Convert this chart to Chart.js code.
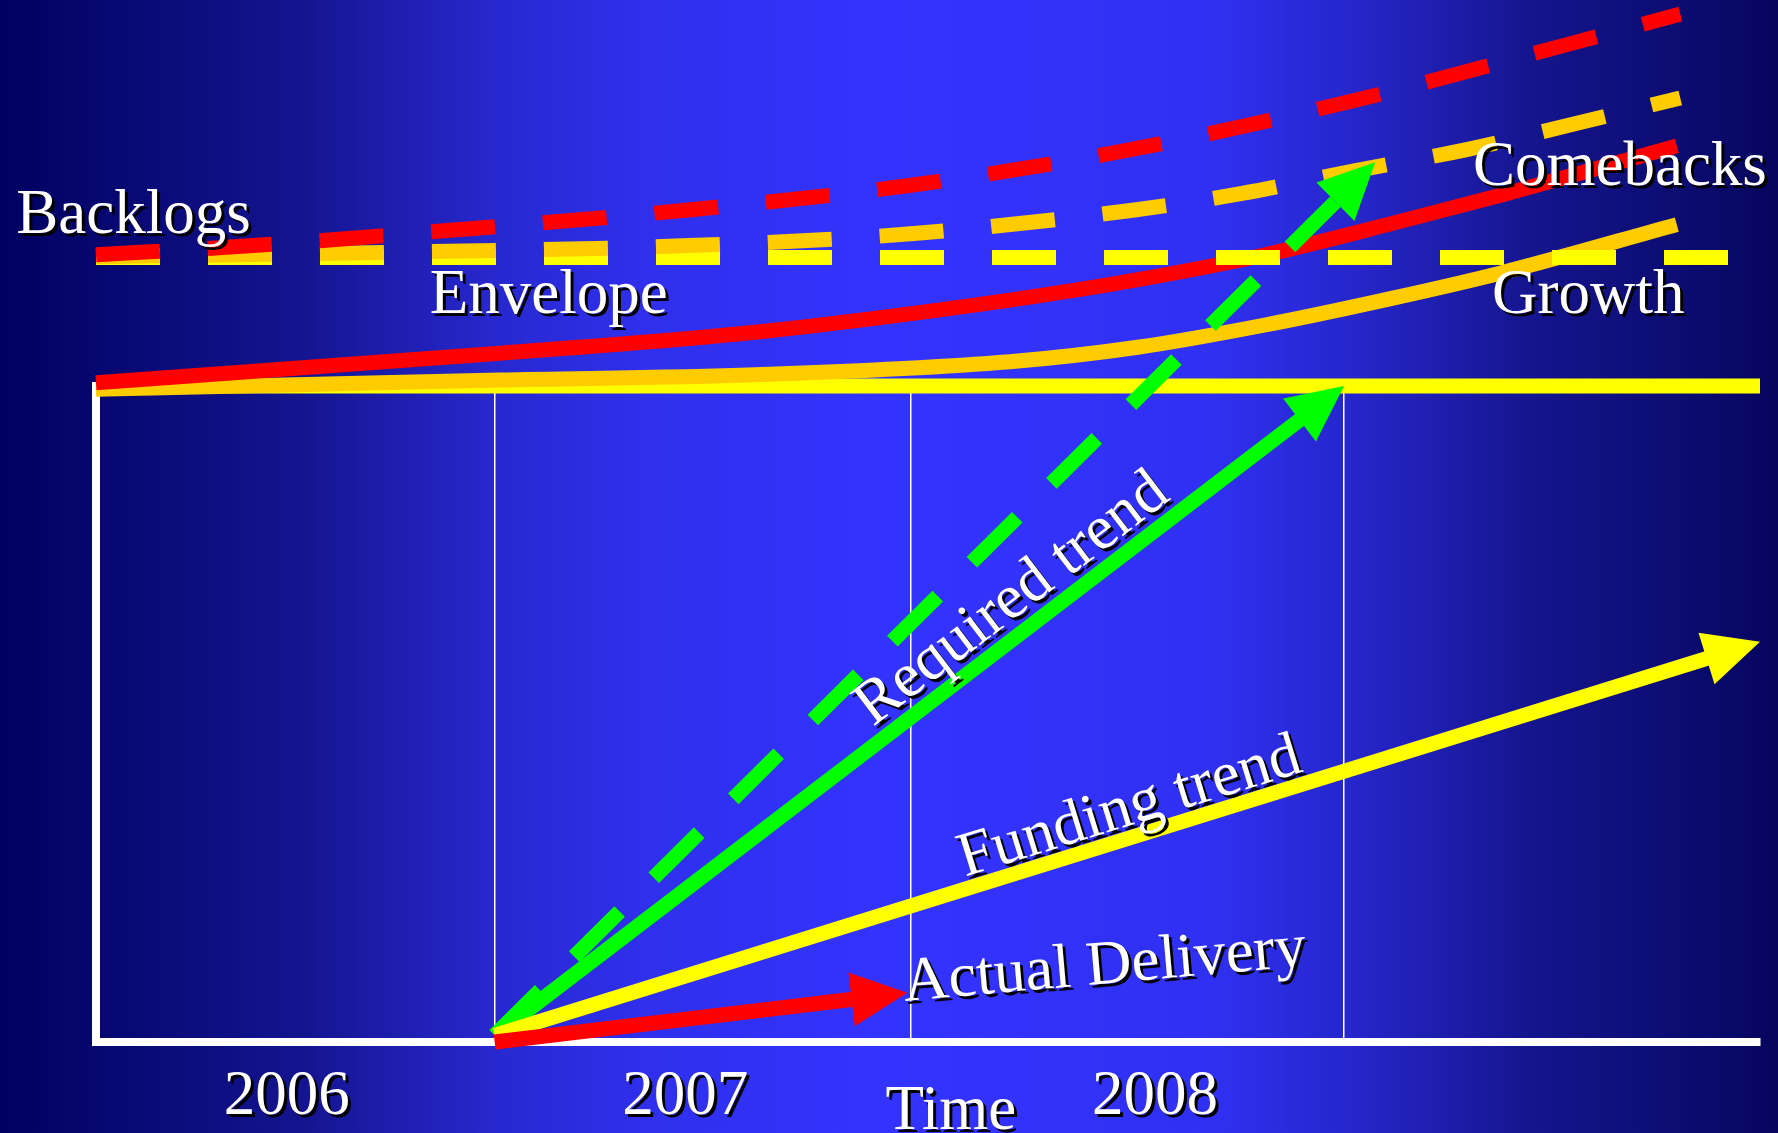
<!DOCTYPE html>
<html>
<head>
<meta charset="utf-8">
<title>Funding trend and required trend</title>
<script src="https://cdn.jsdelivr.net/npm/chart.js@4.4.1/dist/chart.umd.min.js"></script>
<style>
  html, body { margin: 0; padding: 0; background: #000066; }
  canvas { display: block; }
</style>
</head>
<body>
<canvas id="chart" width="1778" height="1133"></canvas>
<script>
// x runs in months from the start of 2006 (0) to the right edge (48)
// y: 100 = the envelope level at the start
const gridMonths = [11.5, 23.5, 36];

const yearLabels = ['2006', '2007', '2008'];
const yearMonths = [5.5, 17.0, 30.55];

// solid curves
const envelopeX = [0, 48];
const envelopeY = [100, 100];
const growthX = [0, 11.65, 19.0, 26.36, 30.05, 33.72, 37.41, 40.5, 45.6];
const growthY = [99.5, 100.9, 101.7, 103.7, 105.9, 109.3, 113.4, 117.2, 124.6];
const comebacksX = [0, 11.65, 19.0, 26.36, 30.05, 33.72, 37.41, 40.6, 45.6];
const comebacksY = [100.5, 105.0, 108.2, 113.1, 116.2, 120.0, 124.8, 129.2, 136.6];

// same curves with backlogs added (dashed)
const envelopeBacklogX = [0, 48];
const envelopeBacklogY = [119.6, 119.6];
const growthBacklogX = [0, 8.8, 17.1, 23.5, 29.9, 33.1, 36.3, 39.5, 42.6, 45.7];
const growthBacklogY = [119.7, 120.4, 121.4, 123.2, 126.8, 129.4, 132.8, 136.0, 139.9, 143.9];
const comebacksBacklogX = [0, 4.2, 10.6, 17.0, 23.5, 29.8, 36.2, 42.4, 45.7];
const comebacksBacklogY = [120.0, 121.3, 123.9, 126.8, 130.6, 136.0, 143.4, 152.0, 156.7];

// trends (arrows)
const requiredX = [11.5, 36];
const requiredY = [1, 100];
const requiredBacklogX = [11.5, 36.9];
const requiredBacklogY = [1, 134.1];
const fundingX = [11.5, 48];
const fundingY = [1, 61];
const deliveryX = [11.5, 23.4];
const deliveryY = [0, 7.5];

const pts = (xs, ys) => xs.map((x, i) => ({ x: x, y: ys[i] }));

const YELLOW = '#ffff00';
const ORANGE = '#ffcc00';
const RED = '#ff0000';
const GREEN = '#00ff00';
const DASH = [64, 48];
const HEAD = { length: 56, width: 54 };

function line(label, xs, ys, color, order, extra) {
    return Object.assign({
        label: label,
        data: pts(xs, ys),
        borderColor: color,
        backgroundColor: color,
        borderWidth: 15,
        pointRadius: 0,
        fill: false,
        clip: false,
        tension: 0,
        borderCapStyle: 'butt',
        order: order
    }, extra || {});
}

const datasets = [
    line('Actual Delivery', deliveryX, deliveryY, RED, 0, { arrow: HEAD }),
    line('Funding trend', fundingX, fundingY, YELLOW, 1, { arrow: HEAD }),
    line('Required trend', requiredX, requiredY, GREEN, 2, { arrow: HEAD }),
    line('Required trend + backlogs', requiredBacklogX, requiredBacklogY, GREEN, 3, { arrow: HEAD, borderDash: DASH }),
    line('Comebacks + backlogs', comebacksBacklogX, comebacksBacklogY, RED, 4, { borderDash: DASH, cubicInterpolationMode: 'monotone' }),
    line('Growth + backlogs', growthBacklogX, growthBacklogY, ORANGE, 5, { borderDash: DASH, cubicInterpolationMode: 'monotone' }),
    line('Envelope + backlogs', envelopeBacklogX, envelopeBacklogY, YELLOW, 6, { borderDash: DASH }),
    line('Comebacks', comebacksX, comebacksY, RED, 7, { cubicInterpolationMode: 'monotone' }),
    line('Growth', growthX, growthY, ORANGE, 8, { cubicInterpolationMode: 'monotone' }),
    line('Envelope', envelopeX, envelopeY, YELLOW, 9)
];

// text placed in data units; "along" takes the angle of that dataset's line
const notes = [
    { text: 'Backlogs', x: -2.3, y: 123.3 },
    { text: 'Envelope', x: 9.63, y: 111.1 },
    { text: 'Comebacks', x: 39.72, y: 130.6 },
    { text: 'Growth', x: 40.27, y: 111.1 },
    { text: 'Time', x: 24.66, y: -13.3, align: 'center' },
    { text: 'Actual Delivery', x: 23.33, y: 6.25, angle: -5 },
    { text: 'Funding trend', x: 25.07, y: 25.2, along: 'Funding trend' },
    { text: 'Required trend', x: 22.41, y: 48.0, along: 'Required trend' }
];
yearLabels.forEach((t, i) => notes.push({ text: t, x: yearMonths[i], y: -11.0, align: 'center' }));

const background = {
    id: 'background',
    beforeDraw(chart) {
        const ctx = chart.ctx;
        const g = ctx.createLinearGradient(0, 0, chart.width, 0);
        g.addColorStop(0, '#000060');
        g.addColorStop(0.17, '#141490');
        g.addColorStop(0.28, '#2828d0');
        g.addColorStop(0.36, '#2f2fec');
        g.addColorStop(0.5, '#3333ff');
        g.addColorStop(0.68, '#3030f2');
        g.addColorStop(0.76, '#2626cc');
        g.addColorStop(0.86, '#15158f');
        g.addColorStop(1, '#06065e');
        ctx.save();
        ctx.fillStyle = g;
        ctx.fillRect(0, 0, chart.width, chart.height);
        ctx.restore();
    }
};

// shortens the line to the arrow base, then draws a triangular head at the tip
const arrowHeads = {
    id: 'arrowHeads',
    beforeDatasetDraw(chart, args) {
        const ds = chart.data.datasets[args.index];
        if (!ds.arrow) return;
        const p = args.meta.data;
        const tip = p[p.length - 1], prev = p[p.length - 2];
        const a = Math.atan2(tip.y - prev.y, tip.x - prev.x);
        args.meta._tip = { x: tip.x, y: tip.y, a: a };
        tip.x -= Math.cos(a) * ds.arrow.length * 0.9;
        tip.y -= Math.sin(a) * ds.arrow.length * 0.9;
    },
    afterDatasetDraw(chart, args) {
        const ds = chart.data.datasets[args.index];
        const t = args.meta._tip;
        if (!ds.arrow || !t) return;
        const p = args.meta.data;
        p[p.length - 1].x = t.x;
        p[p.length - 1].y = t.y;
        const ctx = chart.ctx;
        const len = ds.arrow.length, half = ds.arrow.width / 2;
        ctx.save();
        ctx.translate(t.x, t.y);
        ctx.rotate(t.a);
        ctx.beginPath();
        ctx.moveTo(0, 0);
        ctx.lineTo(-len, -half);
        ctx.lineTo(-len, half);
        ctx.closePath();
        ctx.fillStyle = ds.borderColor;
        ctx.fill();
        ctx.restore();
    }
};

const notesPlugin = {
    id: 'notes',
    afterDraw(chart) {
        const ctx = chart.ctx;
        const xs = chart.scales.x, ys = chart.scales.y;
        ctx.save();
        ctx.font = '63px "Liberation Serif", "Times New Roman", serif';
        ctx.fillStyle = '#ffffff';
        ctx.textBaseline = 'alphabetic';
        ctx.shadowColor = '#000000';
        ctx.shadowOffsetX = 3;
        ctx.shadowOffsetY = 3;
        ctx.shadowBlur = 0;
        notes.forEach(n => {
            let rot = (n.angle || 0) * Math.PI / 180;
            if (n.along) {
                const i = chart.data.datasets.findIndex(d => d.label === n.along);
                const p = chart.getDatasetMeta(i).data;
                const a = p[0], b = p[p.length - 1];
                rot = Math.atan2(b.y - a.y, b.x - a.x);
            }
            ctx.save();
            ctx.translate(xs.getPixelForValue(n.x), ys.getPixelForValue(n.y));
            ctx.rotate(rot);
            ctx.textAlign = n.align || 'left';
            ctx.fillText(n.text, 0, 0);
            ctx.restore();
        });
        ctx.restore();
    }
};

new Chart(document.getElementById('chart').getContext('2d'), {
    type: 'line',
    data: { datasets: datasets },
    options: {
        responsive: false,
        animation: false,
        events: [],
        layout: { padding: { left: 96, top: 386, right: 18, bottom: 0 } },
        plugins: {
            legend: { display: false },
            tooltip: { enabled: false }
        },
        scales: {
            x: {
                type: 'linear',
                min: 0,
                max: 48,
                afterBuildTicks: s => { s.ticks = gridMonths.map(v => ({ value: v })); },
                afterFit: s => { s.height = 91; },
                ticks: { display: false },
                grid: { color: '#ffffff', lineWidth: 1.5, drawTicks: false },
                border: { color: '#ffffff', width: 8 }
            },
            y: {
                type: 'linear',
                min: 0,
                max: 100,
                afterFit: s => { s.width = 0; },
                ticks: { display: false },
                grid: { display: false, drawTicks: false },
                border: { color: '#ffffff', width: 8 }
            }
        }
    },
    plugins: [background, arrowHeads, notesPlugin]
});
</script>
</body>
</html>
